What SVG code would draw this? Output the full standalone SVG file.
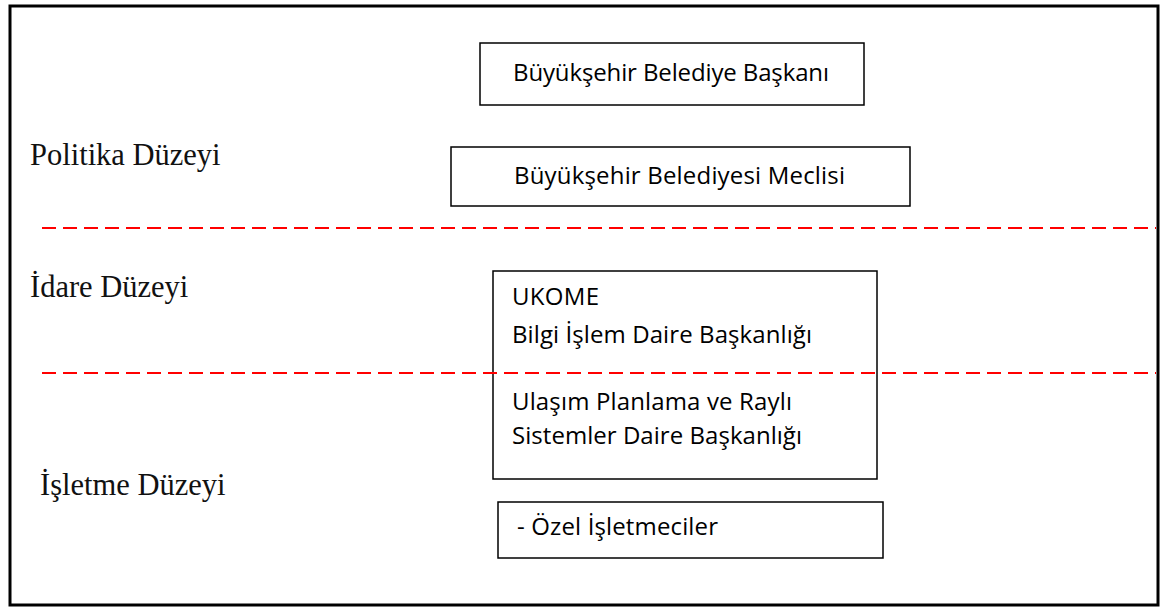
<svg xmlns="http://www.w3.org/2000/svg" width="1172" height="608" viewBox="0 0 1172 608">
  <style>
    .frame { fill: none; stroke: #000; stroke-width: 3; }
    .box { fill: #fff; stroke: #000; stroke-width: 1.5; }
    .sep { stroke: #ff0000; stroke-width: 2; stroke-dasharray: 14 7; fill: none; }
    .lvl { font-family: "Liberation Serif", "Times New Roman", serif; font-size: 30.5px; fill: #111; }
    .lbl { font-family: "Open Sans", "Liberation Sans", sans-serif; font-size: 24px; fill: #000; }
  </style>
  <rect width="1172" height="608" fill="#fff"/>
  <rect class="frame" x="10" y="6" width="1148" height="599"/>

  <!-- level labels -->
  <g id="levels">
    <text class="lvl" x="30" y="165">Politika Düzeyi</text>
    <text class="lvl" x="30" y="297">İdare Düzeyi</text>
    <text class="lvl" x="40" y="495">İşletme Düzeyi</text>
  </g>

  <!-- level separators -->
  <g id="connectors">
    <line class="sep" x1="42" y1="228" x2="1156" y2="228"/>
  </g>

  <g id="baskan">
    <rect class="box" x="480" y="43" width="384" height="62"/>
    <text class="lbl" x="513" y="81" textLength="316">Büyükşehir Belediye Başkanı</text>
  </g>

  <g id="meclis">
    <rect class="box" x="451" y="147" width="459" height="59"/>
    <text class="lbl" x="514" y="184" textLength="331">Büyükşehir Belediyesi Meclisi</text>
  </g>

  <g id="idare">
    <rect class="box" x="493" y="271" width="384" height="208"/>
    <text class="lbl" x="512" y="305" textLength="87">UKOME</text>
    <text class="lbl" x="512" y="343" textLength="300">Bilgi İşlem Daire Başkanlığı</text>
    <text class="lbl" x="512" y="410" textLength="280">Ulaşım Planlama ve Raylı</text>
    <text class="lbl" x="512" y="444" textLength="290">Sistemler Daire Başkanlığı</text>
  </g>

  <g id="separator-lower">
    <line class="sep" x1="42" y1="373" x2="1156" y2="373"/>
  </g>

  <g id="isletmeciler">
    <rect class="box" x="498" y="502" width="385" height="56"/>
    <text class="lbl" x="517" y="535" textLength="201">- Özel İşletmeciler</text>
  </g>
</svg>
